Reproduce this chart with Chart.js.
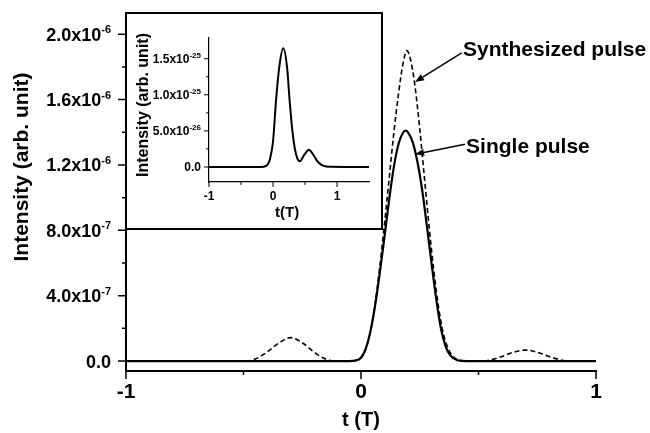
<!DOCTYPE html>
<html>
<head>
<meta charset="utf-8">
<title>Pulse intensity</title>
<script src="https://cdn.jsdelivr.net/npm/chart.js@4.4.0/dist/chart.umd.min.js"></script>
<style>
  html, body { margin: 0; padding: 0; background: #fff; }
  #wrap { position: relative; width: 650px; height: 433px; }
  #mainChart { position: absolute; left: 0; top: 0; }
  #insetBox { position: absolute; left: 125px; top: 12px; width: 258px; height: 218px;
              border: 2px solid #000; box-sizing: border-box; background: #fff; }
  #insetChart { position: absolute; left: 0; top: 0; }
</style>
</head>
<body>
<div id="wrap">
  <canvas id="mainChart" width="650" height="433"></canvas>
  <div id="insetBox"><canvas id="insetChart" width="254" height="214"></canvas></div>
</div>
<script>
// main plot, intensity in units of 1e-6
const singleT = [-1, -0.1, -0.05, -0.02, 0, 0.02, 0.04, 0.06, 0.08, 0.1, 0.12, 0.14, 0.16, 0.18, 0.19, 0.2,
                 0.22, 0.24, 0.26, 0.28, 0.3, 0.32, 0.34, 0.36, 0.38, 0.41, 0.45, 1];
const singleI = [0, 0, 0, 0.004, 0.02, 0.075, 0.18, 0.34, 0.54, 0.76, 0.99, 1.19, 1.33, 1.40, 1.41, 1.40,
                 1.34, 1.22, 1.05, 0.83, 0.60, 0.38, 0.20, 0.09, 0.035, 0.005, 0, 0];

const synthT = [-1, -0.49, -0.45, -0.40, -0.35, -0.30, -0.25, -0.20, -0.16, -0.13, -0.1, -0.05, -0.02, 0,
                0.02, 0.04, 0.06, 0.08, 0.1, 0.12, 0.14, 0.16, 0.18, 0.195, 0.21, 0.23, 0.25, 0.27, 0.29,
                0.31, 0.33, 0.35, 0.37, 0.39, 0.42, 0.46, 0.52, 0.56, 0.60, 0.65, 0.70, 0.75, 0.80, 0.84, 0.88, 1];
const synthI = [0, 0, 0.012, 0.055, 0.11, 0.143, 0.112, 0.055, 0.018, 0.003, 0, 0, 0.005, 0.02,
                0.07, 0.18, 0.35, 0.58, 0.84, 1.12, 1.40, 1.64, 1.83, 1.90, 1.85, 1.68, 1.42, 1.12, 0.82,
                0.55, 0.33, 0.17, 0.08, 0.03, 0.005, 0, 0, 0.01, 0.028, 0.054, 0.067, 0.054, 0.028, 0.01, 0, 0];

// inset, intensity in units of 1e-25
const insetT = [-1, -0.2, -0.1, -0.05, 0, 0.05, 0.1, 0.16, 0.22, 0.26, 0.3, 0.34, 0.38, 0.42,
                0.49, 0.56, 0.63, 0.7, 0.78, 0.9, 1.5];
const insetI = [0, 0, 0.02, 0.1, 0.35, 0.95, 1.4, 1.645, 1.38, 0.92, 0.52, 0.26, 0.12, 0.08,
                0.17, 0.24, 0.17, 0.07, 0.02, 0.003, 0];

// ticks
const mainXTicks = [-1, 0, 1];
const mainXLabels = ['-1', '0', '1'];
const mainXMinor = [-0.5, 0.5];
const mainYTicks = [0, 0.4, 0.8, 1.2, 1.6, 2.0];
const mainYLabels = ['0.0', '4.0x10^-7', '8.0x10^-7', '1.2x10^-6', '1.6x10^-6', '2.0x10^-6'];
const mainYMinor = [0.2, 0.6, 1.0, 1.4, 1.8];

const insetXTicks = [-1, 0, 1];
const insetXLabels = ['-1', '0', '1'];
const insetXMinor = [-0.5, 0.5];
const insetYTicks = [0, 0.5, 1.0, 1.5];
const insetYLabels = ['0.0', '5.0x10^-26', '1.0x10^-25', '1.5x10^-25'];
const insetYMinor = [0.25, 0.75, 1.25];

const FONT = "'Liberation Sans', Arial, Helvetica, sans-serif";

function toPoints(xs, ys) {
  return xs.map((x, i) => ({ x: x, y: ys[i] }));
}

function drawSupLabel(ctx, text, xRight, yMid, size, supSize) {
  const parts = text.split('^');
  const base = parts[0], sup = parts[1] || '';
  ctx.font = `bold ${size}px ${FONT}`;
  const wb = ctx.measureText(base).width;
  ctx.font = `bold ${supSize}px ${FONT}`;
  const ws = sup ? ctx.measureText(sup).width : 0;
  const x0 = xRight - wb - ws;
  const baseline = yMid + size * 0.36;
  ctx.textAlign = 'left';
  ctx.textBaseline = 'alphabetic';
  ctx.font = `bold ${size}px ${FONT}`;
  ctx.fillText(base, x0, baseline);
  if (sup) {
    ctx.font = `bold ${supSize}px ${FONT}`;
    ctx.fillText(sup, x0 + wb, baseline - size * 0.42);
  }
}

// draws tick marks, tick labels, axis titles and arrow notes
const axisDecor = {
  id: 'axisDecor',
  afterDraw(chart, args, o) {
    const ctx = chart.ctx;
    const xs = chart.scales.x, ys = chart.scales.y;
    const area = chart.chartArea;
    ctx.save();
    ctx.strokeStyle = '#000';
    ctx.fillStyle = '#000';
    ctx.lineWidth = o.tickWidth;

    const yAxisX = area.left;
    const xAxisY = area.bottom;
    ctx.beginPath();
    o.yTicks.forEach(v => {
      const y = ys.getPixelForValue(v);
      ctx.moveTo(yAxisX - o.majorLen, y); ctx.lineTo(yAxisX, y);
    });
    o.yMinor.forEach(v => {
      const y = ys.getPixelForValue(v);
      ctx.moveTo(yAxisX - o.minorLen, y); ctx.lineTo(yAxisX, y);
    });
    o.xTicks.forEach(v => {
      const x = xs.getPixelForValue(v);
      ctx.moveTo(x, xAxisY); ctx.lineTo(x, xAxisY + o.majorLen);
    });
    o.xMinor.forEach(v => {
      const x = xs.getPixelForValue(v);
      ctx.moveTo(x, xAxisY); ctx.lineTo(x, xAxisY + o.minorLen);
    });
    ctx.stroke();

    o.yTicks.forEach((v, i) => {
      drawSupLabel(ctx, o.yLabels[i], o.yLabelRight, ys.getPixelForValue(v), o.yFont, o.ySupFont);
    });

    ctx.font = `bold ${o.xFont}px ${FONT}`;
    ctx.textAlign = 'center';
    ctx.textBaseline = 'middle';
    o.xTicks.forEach((v, i) => {
      ctx.fillText(o.xLabels[i], xs.getPixelForValue(v), o.xLabelY);
    });

    // axis titles
    ctx.font = `bold ${o.xTitleFont}px ${FONT}`;
    ctx.fillText(o.xTitle, xs.getPixelForValue(o.xTitleAt), o.xTitleY);
    ctx.save();
    ctx.translate(o.yTitleX, o.yTitleY);
    ctx.rotate(-Math.PI / 2);
    ctx.font = `bold ${o.yTitleFont}px ${FONT}`;
    ctx.fillText(o.yTitle, 0, 0);
    ctx.restore();

    // notes with arrows
    (o.notes || []).forEach(n => {
      const tx = xs.getPixelForValue(n.text[0]), ty = ys.getPixelForValue(n.text[1]);
      const sx = xs.getPixelForValue(n.from[0]), sy = ys.getPixelForValue(n.from[1]);
      const ex = xs.getPixelForValue(n.to[0]), ey = ys.getPixelForValue(n.to[1]);
      ctx.font = `bold ${o.noteFont}px ${FONT}`;
      ctx.textAlign = 'left';
      ctx.textBaseline = 'middle';
      ctx.fillText(n.label, tx, ty);
      const ang = Math.atan2(ey - sy, ex - sx);
      const hl = 9, hw = 3.5;
      const bx = ex - hl * Math.cos(ang), by = ey - hl * Math.sin(ang);
      ctx.lineWidth = 1.5;
      ctx.beginPath();
      ctx.moveTo(sx, sy); ctx.lineTo(bx, by);
      ctx.stroke();
      ctx.beginPath();
      ctx.moveTo(ex, ey);
      ctx.lineTo(bx + hw * Math.sin(ang), by - hw * Math.cos(ang));
      ctx.lineTo(bx - hw * Math.sin(ang), by + hw * Math.cos(ang));
      ctx.closePath();
      ctx.fill();
    });
    ctx.restore();
  }
};

function axisScale(min, max, width, fit) {
  return {
    type: 'linear', min: min, max: max,
    grid: { display: false, drawTicks: false },
    border: { display: true, color: '#000', width: width },
    ticks: { display: false },
    afterFit: fit
  };
}

new Chart(document.getElementById('mainChart'), {
  type: 'line',
  data: {
    datasets: [
      { label: 'Single pulse', data: toPoints(singleT, singleI), borderColor: '#000',
        borderWidth: 2.2, pointRadius: 0, cubicInterpolationMode: 'monotone' },
      { label: 'Synthesized pulse', data: toPoints(synthT, synthI), borderColor: '#000',
        borderWidth: 1.6, borderDash: [5, 3], pointRadius: 0, cubicInterpolationMode: 'monotone' }
    ]
  },
  options: {
    responsive: false,
    animation: false,
    layout: { padding: { left: 0, right: 54, top: 13, bottom: 0 } },
    plugins: {
      legend: { display: false },
      tooltip: { enabled: false },
      axisDecor: {
        tickWidth: 1.5, majorLen: 8, minorLen: 4,
        yTicks: mainYTicks, yMinor: mainYMinor, yLabels: mainYLabels,
        xTicks: mainXTicks, xMinor: mainXMinor, xLabels: mainXLabels,
        yLabelRight: 111, yFont: 18, ySupFont: 11,
        xLabelY: 392, xFont: 21,
        xTitle: 't (T)', xTitleAt: 0, xTitleY: 420, xTitleFont: 20,
        yTitle: 'Intensity (arb. unit)', yTitleX: 22, yTitleY: 167, yTitleFont: 21,
        noteFont: 21,
        notes: [
          { label: 'Synthesized pulse', text: [0.434, 1.902], from: [0.4285, 1.886], to: [0.23, 1.708] },
          { label: 'Single pulse', text: [0.447, 1.311], from: [0.4426, 1.327], to: [0.23, 1.266] }
        ]
      }
    },
    scales: {
      x: axisScale(-1, 1, 2, s => { s.height = 62; }),
      y: axisScale(-0.061, 2.13, 2, s => { s.width = 126; })
    }
  },
  plugins: [axisDecor]
});

new Chart(document.getElementById('insetChart'), {
  type: 'line',
  data: {
    datasets: [
      { label: 'Inset', data: toPoints(insetT, insetI), borderColor: '#000',
        borderWidth: 2, pointRadius: 0, cubicInterpolationMode: 'monotone' }
    ]
  },
  options: {
    responsive: false,
    animation: false,
    layout: { padding: { left: 0, right: 12, top: 24, bottom: 0 } },
    plugins: {
      legend: { display: false },
      tooltip: { enabled: false },
      axisDecor: {
        tickWidth: 1, majorLen: 5, minorLen: 3,
        yTicks: insetYTicks, yMinor: insetYMinor, yLabels: insetYLabels,
        xTicks: insetXTicks, xMinor: insetXMinor, xLabels: insetXLabels,
        yLabelRight: 74, yFont: 12, ySupFont: 8,
        xLabelY: 183, xFont: 12,
        xTitle: 't(T)', xTitleAt: 0.22, xTitleY: 199, xTitleFont: 15,
        yTitle: 'Intensity (arb. unit)', yTitleX: 17, yTitleY: 91, yTitleFont: 16
      }
    },
    scales: {
      x: axisScale(-1, 1.5, 1.2, s => { s.height = 46; }),
      y: axisScale(-0.208, 1.7875, 1.2, s => { s.width = 82; })
    }
  },
  plugins: [axisDecor]
});
</script>
</body>
</html>
